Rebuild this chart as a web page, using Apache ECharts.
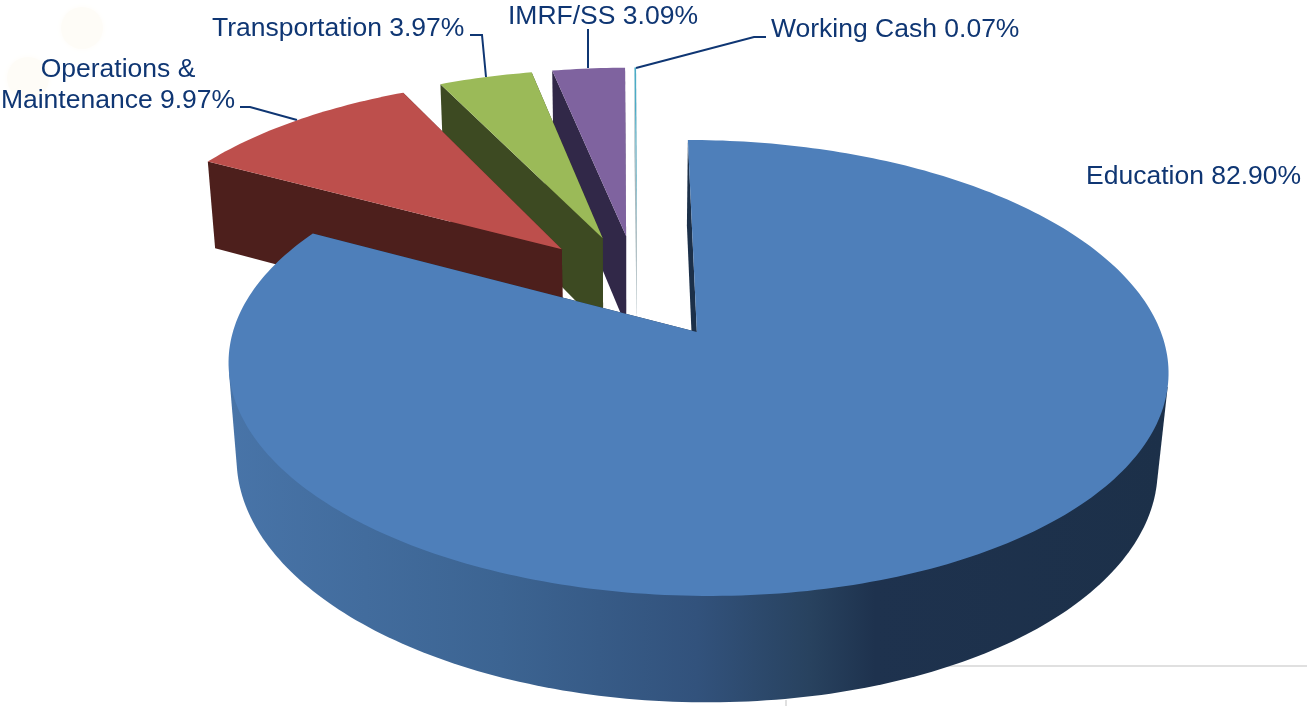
<!DOCTYPE html>
<html>
<head>
<meta charset="utf-8">
<script src="https://cdn.jsdelivr.net/npm/echarts@6/dist/echarts.min.js"></script>
<style>
html, body { margin: 0; padding: 0; background: #fff; }
#main { width: 1307px; height: 706px; }
</style>
</head>
<body>
<div id="main"></div>
<script>
var names = ['Education', 'Operations &\nMaintenance', 'Transportation', 'IMRF/SS', 'Working Cash'];
var values = [82.90, 9.97, 3.97, 3.09, 0.07];

var topColors = ['#4E7FBA', '#BD4F4C', '#9BBA58', '#7F639F', '#4BACC6'];
var wallColors = ['#1C3049', '#4D1F1C', '#3D4A22', '#312848', '#A9B9BE'];

// label placement, same order as names
var labelPos = [
    {x: 1086, y: 177, align: 'left'},
    {x: 118, y: 85, align: 'center'},
    {x: 212, y: 29, align: 'left'},
    {x: 508, y: 17, align: 'left'},
    {x: 771, y: 30, align: 'left'}
];
var leaderLines = [
    [[240, 107], [250, 107], [297, 120]],
    [[470, 35], [482, 35], [486, 77]],
    [[588, 29], [588, 68]],
    [[766, 37], [754, 37], [636, 68]]
];

// camera for the tilted pie
var VX = 631, AY = 332, KX = 464, KY = 222.3, PERSP = 0.158, U0 = 0.142;
var DEPTH = 97, LOW_D = 0.02;
var PIE_U = -0.128, PIE_V = -0.215, EXPLODE = 0.25;

var total = 0;
for (var i = 0; i < values.length; i++) total += values[i];

var project = function(u, v, low) {
    var d = 1 - PERSP * v + (low ? LOW_D : 0);
    return [VX + KX * (u + U0) / d, AY + (KY * v + (low ? DEPTH : 0)) / d];
};

var sliceAngles = function(idx) {
    var sum = 0;
    for (var i = 0; i < idx; i++) sum += values[i];
    return [sum / total * Math.PI * 2, (sum + values[idx]) / total * Math.PI * 2];
};

// shoelace area, the sign tells which way a wall quad faces
var quadArea = function(p) {
    var area = 0;
    for (var i = 0; i < p.length; i++) {
        var n = p[(i + 1) % p.length];
        area += p[i][0] * n[1] - n[0] * p[i][1];
    }
    return area / 2;
};

var sideGradient = new echarts.graphic.LinearGradient(230, 0, 1165, 0, [
    {offset: 0, color: '#4874A8'},
    {offset: 0.29, color: '#3C6492'},
    {offset: 0.5, color: '#32527C'},
    {offset: 0.62, color: '#28425F'},
    {offset: 0.69, color: '#1E324E'},
    {offset: 1, color: '#1C3049'}
], true);

var renderSlice = function(params, api) {
    // data is stored back to front so the painter order is right
    var idx = values.length - 1 - params.dataIndex;
    var a = sliceAngles(idx);
    var mid = (a[0] + a[1]) / 2;
    var ou = PIE_U + EXPLODE * Math.sin(mid);
    var ov = PIE_V - EXPLODE * Math.cos(mid);

    var steps = Math.max(2, Math.ceil((a[1] - a[0]) / (Math.PI / 180)));
    var topArc = [], lowArc = [];
    for (var s = 0; s <= steps; s++) {
        var t = a[0] + (a[1] - a[0]) * s / steps;
        topArc.push(project(ou + Math.sin(t), ov - Math.cos(t), false));
        lowArc.push(project(ou + Math.sin(t), ov - Math.cos(t), true));
    }
    var topApex = project(ou, ov, false);
    var lowApex = project(ou, ov, true);
    var wall = wallColors[idx];
    var poly = function(points, fill) {
        return {type: 'polygon', shape: {points: points}, style: {fill: fill}, silent: true};
    };

    var children = [];
    // outer wall: only the run of quads that face the viewer, closed by a chord under the top face
    var first = -1, last = -1;
    for (var q = 0; q < steps; q++) {
        if (quadArea([topArc[q], topArc[q + 1], lowArc[q + 1], lowArc[q]]) < 0) {
            if (first < 0) first = q;
            last = q + 1;
        }
    }
    if (first >= 0) {
        var side = [topArc[first]].concat(lowArc.slice(first, last + 1), [topArc[last]]);
        children.push(poly(side, idx === 0 ? sideGradient : wall));
    }
    // walls on the two radial cuts
    children.push(poly([topArc[steps], lowArc[steps], lowApex, topApex], wall));
    children.push(poly([topArc[0], lowArc[0], lowApex, topApex], wall));
    // top face
    children.push(poly([topApex].concat(topArc), topColors[idx]));
    return {type: 'group', children: children};
};

var seriesData = [];
for (var j = values.length - 1; j >= 0; j--) seriesData.push(values[j]);

var graphics = [
    {type: 'circle', shape: {cx: 82, cy: 28, r: 21}, style: {fill: '#FEFCF7', shadowBlur: 6, shadowColor: '#FEFCF7'}, silent: true},
    {type: 'circle', shape: {cx: 28, cy: 78, r: 21}, style: {fill: '#FEFCF7', shadowBlur: 6, shadowColor: '#FEFCF7'}, silent: true},
    {type: 'line', shape: {x1: 786, y1: 666, x2: 1307, y2: 666}, style: {stroke: '#E0E0E0', lineWidth: 2}, silent: true},
    {type: 'line', shape: {x1: 786, y1: 700, x2: 786, y2: 706}, style: {stroke: '#E0E0E0', lineWidth: 2}, silent: true}
];
for (var k = 0; k < values.length; k++) {
    graphics.push({
        type: 'text',
        x: labelPos[k].x,
        y: labelPos[k].y,
        style: {
            text: names[k] + ' ' + values[k].toFixed(2) + '%',
            fill: '#0F3673',
            font: '26.5px "Liberation Sans", Arial, sans-serif',
            lineHeight: 31,
            align: labelPos[k].align,
            verticalAlign: 'middle'
        }
    });
}
for (var m = 0; m < leaderLines.length; m++) {
    graphics.push({
        type: 'polyline',
        shape: {points: leaderLines[m]},
        style: {stroke: '#0F3673', lineWidth: 2, fill: null},
        silent: true
    });
}

var myChart = echarts.init(document.getElementById('main'));
var option = {
    animation: false,
    backgroundColor: '#fff',
    graphic: graphics,
    series: [
        {
            type: 'custom',
            coordinateSystem: 'none',
            renderItem: renderSlice,
            data: seriesData,
            z: 2
        }
    ]
};
myChart.setOption(option);
</script>
</body>
</html>
